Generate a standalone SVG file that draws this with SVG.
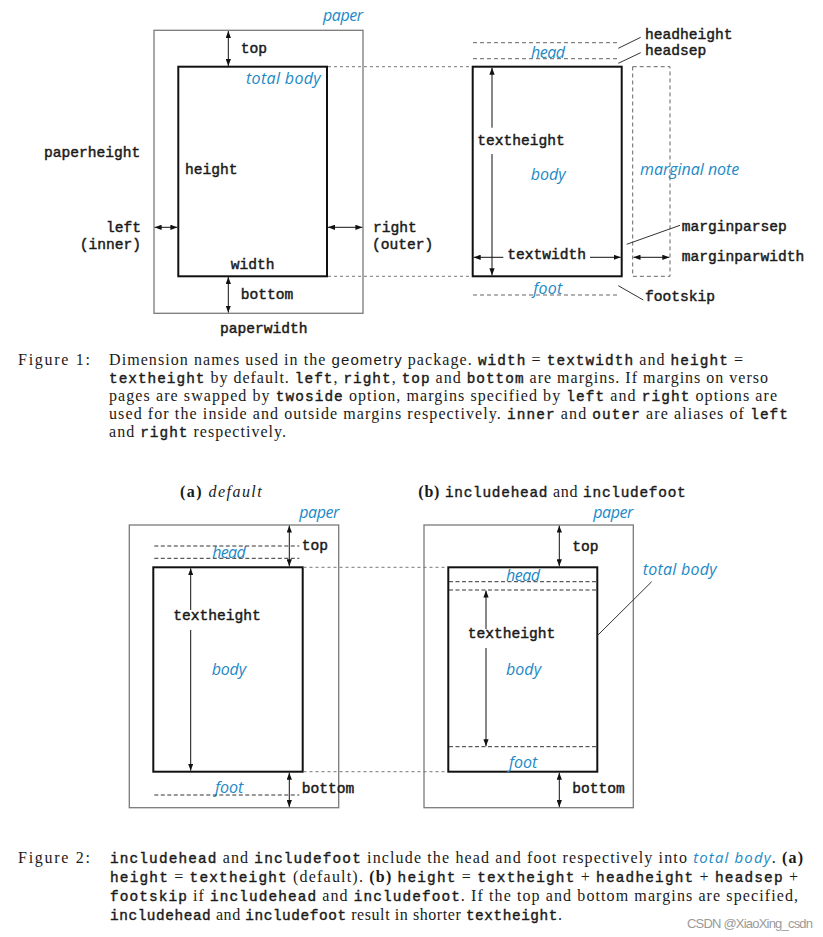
<svg xmlns="http://www.w3.org/2000/svg" width="823" height="937" viewBox="0 0 823 937">
<defs>
<marker id="ah" viewBox="0 0 8 6" refX="8" refY="3" markerWidth="7" markerHeight="5.5" markerUnits="userSpaceOnUse" orient="auto-start-reverse"><path d="M0,0 L8,3 L0,6 z" fill="#111"/></marker>
</defs>
<style>
.mono{font-family:"Liberation Mono","DejaVu Sans Mono",monospace;font-size:14.6px;fill:#1a1a1a;stroke:#1a1a1a;stroke-width:0.45}
.blue{font-family:"Open Sans","Noto Sans",sans-serif;font-style:italic;font-size:16px;fill:#2289c6}
.paper{fill:none;stroke:#7a7a7a;stroke-width:1.3}
.body{fill:none;stroke:#111;stroke-width:2}
.arr{stroke:#111;stroke-width:1;fill:none}
.dot{stroke:#777;stroke-width:1;stroke-dasharray:3 3;fill:none}
.dash{stroke:#333;stroke-width:1;stroke-dasharray:4 2.5;fill:none}
.gdash{stroke:#666;stroke-width:1;stroke-dasharray:4 3;fill:none}
.lead{stroke:#333;stroke-width:1}
.cap{font-family:"Liberation Serif","Times New Roman",serif;font-size:16px;fill:#1a1a1a}
.ct{font-family:"Liberation Mono","DejaVu Sans Mono",monospace;font-size:14.4px;stroke:#1a1a1a;stroke-width:0.4}
.cs{font-family:"Liberation Sans",Arial,sans-serif;font-size:15px}
.cb{font-weight:bold}
.cbl{font-family:"Open Sans","Noto Sans",sans-serif;font-style:italic;font-size:15px;fill:#2289c6}
</style>
<rect width="823" height="937" fill="#fff"/>

<g id="fig1-left">
  <rect class="paper" x="154" y="30.3" width="209" height="283"/>
  <rect class="body" x="178.3" y="66.7" width="148.7" height="209.6"/>
  <text class="blue" x="323" y="20.7" textLength="40">paper</text>
  <text class="blue" x="246" y="84" textLength="74.7">total body</text>
  <text class="mono" x="240.7" y="52.7">top</text>
  <text class="mono" x="44" y="156.7">paperheight</text>
  <text class="mono" x="185" y="174">height</text>
  <text class="mono" x="141" y="231.7" text-anchor="end">left</text>
  <text class="mono" x="141" y="249" text-anchor="end">(inner)</text>
  <text class="mono" x="373" y="231.7">right</text>
  <text class="mono" x="372" y="249">(outer)</text>
  <text class="mono" x="230.7" y="269.3">width</text>
  <text class="mono" x="240.7" y="299">bottom</text>
  <text class="mono" x="220" y="333.3">paperwidth</text>
</g>

<g id="fig1-right">
  <rect class="body" x="472.7" y="66.7" width="149" height="209.6"/>
  <rect class="gdash" x="632.7" y="66.7" width="37.3" height="209.6"/>
  <text class="blue" x="531" y="57.7" textLength="34">head</text>
  <text class="mono" x="645" y="38.6">headheight</text>
  <text class="mono" x="645" y="55">headsep</text>
  <text class="blue" x="640" y="175" textLength="99.3">marginal note</text>
  <text class="mono" x="477.3" y="145">textheight</text>
  <text class="blue" x="530.7" y="180" textLength="35">body</text>
  <text class="mono" x="681.7" y="230.7">marginparsep</text>
  <text class="mono" x="507.3" y="259.3">textwidth</text>
  <text class="mono" x="681.7" y="260.7">marginparwidth</text>
  <text class="blue" x="533.3" y="294" textLength="29">foot</text>
  <text class="mono" x="645" y="300.5">footskip</text>
</g>

<g id="fig2a">
  <text class="cap" x="180" y="496.7" textLength="81.7"><tspan class="cb">(a)</tspan> <tspan font-style="italic">default</tspan></text>
  <rect class="paper" x="129.3" y="525" width="209.4" height="282.7"/>
  <rect class="body" x="153.3" y="567.3" width="149.4" height="204.4"/>
  <text class="blue" x="299.3" y="518.3" textLength="40">paper</text>
  <text class="blue" x="212.3" y="558.3" textLength="33.4">head</text>
  <text class="mono" x="301.7" y="550">top</text>
  <text class="mono" x="173.3" y="620">textheight</text>
  <text class="blue" x="211.7" y="675" textLength="34.3">body</text>
  <text class="blue" x="215" y="793.3" textLength="28.3">foot</text>
  <text class="mono" x="301.7" y="793.3">bottom</text>
</g>

<g id="fig2b">
  <text class="cap" x="418.3" y="496.7" textLength="267.4"><tspan class="cb">(b)</tspan> <tspan class="ct">includehead</tspan> and <tspan class="ct">includefoot</tspan></text>
  <rect class="paper" x="424" y="525" width="209.3" height="282.7"/>
  <rect class="body" x="448.3" y="567.3" width="149" height="204.4"/>
  <text class="blue" x="593.3" y="518.3" textLength="40">paper</text>
  <text class="mono" x="572.3" y="551">top</text>
  <text class="blue" x="506" y="581" textLength="34">head</text>
  <text class="mono" x="467.7" y="638.3">textheight</text>
  <text class="blue" x="506" y="675" textLength="35">body</text>
  <text class="blue" x="509" y="768.3" textLength="28.3">foot</text>
  <text class="mono" x="572.3" y="793.3">bottom</text>
  <text class="blue" x="642.7" y="575" textLength="74">total body</text>
</g>

<g id="connectors">
  <line class="arr" x1="228.3" y1="31" x2="228.3" y2="66" marker-start="url(#ah)" marker-end="url(#ah)"/>
  <line class="arr" x1="228.3" y1="277" x2="228.3" y2="312.6" marker-start="url(#ah)" marker-end="url(#ah)"/>
  <line class="arr" x1="154.6" y1="227.3" x2="177.4" y2="227.3" marker-start="url(#ah)" marker-end="url(#ah)"/>
  <line class="arr" x1="328" y1="227.3" x2="362.4" y2="227.3" marker-start="url(#ah)" marker-end="url(#ah)"/>
  <line class="dot" x1="328" y1="66.7" x2="472" y2="66.7"/>
  <line class="dot" x1="328" y1="276.3" x2="472" y2="276.3"/>
  <line class="gdash" x1="473" y1="42.7" x2="618" y2="42.7"/>
  <line class="gdash" x1="473" y1="58.7" x2="618" y2="58.7"/>
  <line class="gdash" x1="473" y1="295" x2="618" y2="295"/>
  <line class="lead" x1="618.3" y1="48.3" x2="640.7" y2="37.3"/>
  <line class="lead" x1="618.3" y1="63.3" x2="640.7" y2="52.7"/>
  <line class="lead" x1="626.7" y1="244.3" x2="680" y2="225.3"/>
  <line class="lead" x1="618.3" y1="285.7" x2="643.3" y2="300"/>
  <line class="arr" x1="492" y1="127.7" x2="492" y2="67.7" marker-end="url(#ah)"/>
  <line class="arr" x1="492" y1="154" x2="492" y2="275.3" marker-end="url(#ah)"/>
  <line class="arr" x1="503.3" y1="257.3" x2="473.7" y2="257.3" marker-end="url(#ah)"/>
  <line class="arr" x1="590" y1="257.3" x2="620.7" y2="257.3" marker-end="url(#ah)"/>
  <line class="arr" x1="633.5" y1="257.3" x2="669.3" y2="257.3" marker-start="url(#ah)" marker-end="url(#ah)"/>
  <line class="arr" x1="289.3" y1="525.6" x2="289.3" y2="566.3" marker-start="url(#ah)" marker-end="url(#ah)"/>
  <line class="arr" x1="289.3" y1="772.7" x2="289.3" y2="807.1" marker-start="url(#ah)" marker-end="url(#ah)"/>
  <line class="dash" x1="154.3" y1="546" x2="299.3" y2="546"/>
  <line class="dash" x1="154.3" y1="558.3" x2="299.3" y2="558.3"/>
  <line class="dash" x1="154.3" y1="795" x2="299.3" y2="795"/>
  <line class="arr" x1="190.7" y1="610" x2="190.7" y2="568.3" marker-end="url(#ah)"/>
  <line class="arr" x1="190.7" y1="630" x2="190.7" y2="770.7" marker-end="url(#ah)"/>
  <line class="dot" x1="303.5" y1="567.3" x2="447.5" y2="567.3"/>
  <line class="dot" x1="303.5" y1="771.7" x2="447.5" y2="771.7"/>
  <line class="arr" x1="559.3" y1="525.6" x2="559.3" y2="566.3" marker-start="url(#ah)" marker-end="url(#ah)"/>
  <line class="arr" x1="559.3" y1="772.7" x2="559.3" y2="807.1" marker-start="url(#ah)" marker-end="url(#ah)"/>
  <line class="dash" x1="449" y1="581.7" x2="596.7" y2="581.7"/>
  <line class="dash" x1="449" y1="590" x2="596.7" y2="590"/>
  <line class="dash" x1="449" y1="746.7" x2="596.7" y2="746.7"/>
  <line class="arr" x1="486" y1="629" x2="486" y2="590.5" marker-end="url(#ah)"/>
  <line class="arr" x1="486" y1="648" x2="486" y2="746.2" marker-end="url(#ah)"/>
  <line class="lead" x1="597.3" y1="635.7" x2="651.7" y2="581.7"/>
</g>

<g id="caption1" class="cap">
  <text x="18" y="365" textLength="72">Figure 1:</text>
  <text x="109" y="365" textLength="634">Dimension names used in the <tspan class="cs">geometry</tspan> package. <tspan class="ct">width</tspan> = <tspan class="ct">textwidth</tspan> and <tspan class="ct">height</tspan> =</text>
  <text x="109" y="383" textLength="659"><tspan class="ct">textheight</tspan> by default. <tspan class="ct">left</tspan>, <tspan class="ct">right</tspan>, <tspan class="ct">top</tspan> and <tspan class="ct">bottom</tspan> are margins. If margins on verso</text>
  <text x="109" y="401" textLength="668">pages are swapped by <tspan class="ct">twoside</tspan> option, margins specified by <tspan class="ct">left</tspan> and <tspan class="ct">right</tspan> options are</text>
  <text x="109" y="419" textLength="679">used for the inside and outside margins respectively. <tspan class="ct">inner</tspan> and <tspan class="ct">outer</tspan> are aliases of <tspan class="ct">left</tspan></text>
  <text x="109" y="437" textLength="177">and <tspan class="ct">right</tspan> respectively.</text>
</g>

<g id="caption2" class="cap">
  <text x="18" y="863" textLength="72">Figure 2:</text>
  <text x="110" y="863" textLength="693"><tspan class="ct">includehead</tspan> and <tspan class="ct">includefoot</tspan> include the head and foot respectively into <tspan class="cbl">total body</tspan>. <tspan class="cb">(a)</tspan></text>
  <text x="110" y="882" textLength="688"><tspan class="ct">height</tspan> = <tspan class="ct">textheight</tspan> (default). <tspan class="cb">(b)</tspan> <tspan class="ct">height</tspan> = <tspan class="ct">textheight</tspan> + <tspan class="ct">headheight</tspan> + <tspan class="ct">headsep</tspan> +</text>
  <text x="110" y="901" textLength="688"><tspan class="ct">footskip</tspan> if <tspan class="ct">includehead</tspan> and <tspan class="ct">includefoot</tspan>. If the top and bottom margins are specified,</text>
  <text x="110" y="920" textLength="452"><tspan class="ct">includehead</tspan> and <tspan class="ct">includefoot</tspan> result in shorter <tspan class="ct">textheight</tspan>.</text>
  <text x="687" y="928" textLength="126" style="font-family:'Liberation Sans',Arial,sans-serif;font-size:13px;fill:#9a9a9a">CSDN @XiaoXing_csdn</text>
</g>
</svg>
